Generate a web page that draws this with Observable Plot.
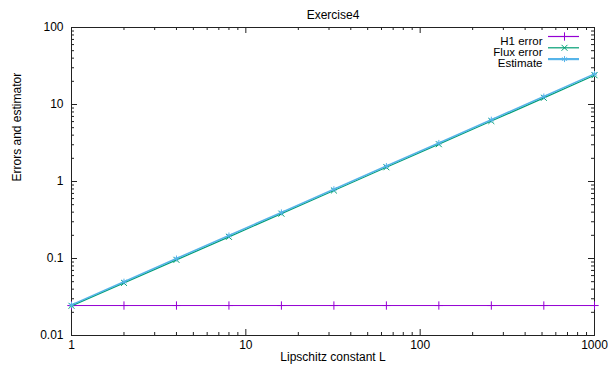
<!DOCTYPE html>
<html>
<head>
<meta charset="utf-8">
<script src="https://cdn.jsdelivr.net/npm/d3@7"></script>
<script src="https://cdn.jsdelivr.net/npm/@observablehq/plot@0.6"></script>
<style>
  html, body { margin: 0; padding: 0; background: #fff; }
  #chart svg { display: block; }
</style>
</head>
<body>
<div id="chart"></div>
<script>
// Lipschitz constants and the measured errors / estimator
const L = [1, 2, 4, 8, 16, 32, 64, 128, 256, 512, 1000];
const h1Error = [0.0245, 0.0245, 0.0245, 0.0245, 0.0245, 0.0245, 0.0245, 0.0245, 0.0245, 0.0245, 0.0245];
const fluxError = [0.0243, 0.0482, 0.096, 0.191, 0.382, 0.764, 1.53, 3.05, 6.1, 12.2, 24.0];
const estimate = [0.025, 0.05, 0.1, 0.199, 0.397, 0.794, 1.59, 3.17, 6.35, 12.7, 25.0];

const seriesNames = ["H1 error", "Flux error", "Estimate"];
const seriesColors = ["#9400d3", "#009e73", "#56b4e9"];
const seriesSymbols = ["plus", "times", "asterisk"];

const xTickValues = [1, 10, 100, 1000];
const yTickValues = [0.01, 0.1, 1, 10, 100];

const titleText = "Exercise4";
const xLabel = "Lipschitz constant L";
const yLabel = "Errors and estimator";

// minor ticks 2..9 within each decade
const minorTicks = (majors) => majors.slice(0, -1).flatMap(m => d3.range(2, 10).map(k => k * m));

const W = 608, H = 376;
const mL = 71, mR = 14, mT = 27, mB = 41;
const innerW = W - mL - mR, innerH = H - mT - mB;
const majorLen = 6, minorLen = 3;

const rows = (ys) => L.map((l, i) => ({L: l, v: ys[i]}));
const series = [h1Error, fluxError, estimate].map(rows);
const lineWidths = [1, 1.3, 1.6];

const tickStroke = "#222";
const tickMarks = (xs, ys, len) => [
  Plot.ruleX(xs, {x: d => d, insetTop: innerH - len, stroke: tickStroke}),
  Plot.ruleX(xs, {x: d => d, insetBottom: innerH - len, stroke: tickStroke}),
  Plot.ruleY(ys, {y: d => d, insetRight: innerW - len, stroke: tickStroke}),
  Plot.ruleY(ys, {y: d => d, insetLeft: innerW - len, stroke: tickStroke})
];

// key in the top-right corner
const legend = seriesNames.flatMap((name, i) => {
  const dy = 9 + i * 11.3;
  return [
    Plot.text([name], {text: d => d, frameAnchor: "top-right", dx: -52, dy, textAnchor: "end", fill: "#000", fontSize: 11.5}),
    Plot.ruleY([100], {dy, insetLeft: 477, insetRight: 15, stroke: seriesColors[i], strokeWidth: i === 2 ? 2.2 : 1.2}),
    Plot.dot([0], {frameAnchor: "top-right", dx: -30, dy, symbol: seriesSymbols[i], stroke: seriesColors[i], r: 2.8, strokeWidth: 1})
  ];
});

const chart = Plot.plot({
  width: W,
  height: H,
  marginLeft: mL,
  marginRight: mR,
  marginTop: mT,
  marginBottom: mB,
  style: {fontFamily: "'Liberation Sans', Arial, sans-serif", fontSize: "12px", background: "#fff", color: "#000"},
  x: {type: "log", domain: [1, 1000]},
  y: {type: "log", domain: [0.01, 100]},
  marks: [
    Plot.axisX({ticks: xTickValues, tickSize: 0, tickPadding: 5, tickFormat: d => String(d), label: null, fontSize: 12}),
    Plot.axisY({ticks: yTickValues, tickSize: 0, tickPadding: 8, tickFormat: d => String(d), label: null, fontSize: 12}),
    ...tickMarks(minorTicks(xTickValues), minorTicks(yTickValues), minorLen),
    ...tickMarks(xTickValues, yTickValues, majorLen),
    Plot.frame({stroke: "#222", strokeWidth: 1}),
    // one polyline with markers per series, drawn in key order
    ...series.flatMap((s, i) => [
      Plot.line(s, {x: "L", y: "v", stroke: seriesColors[i], strokeWidth: lineWidths[i]}),
      Plot.dot(s, {x: "L", y: "v", symbol: seriesSymbols[i], stroke: seriesColors[i], r: 2.8, strokeWidth: 1})
    ]),
    ...legend,
    Plot.text([titleText], {text: d => d, frameAnchor: "top", dy: -17, fontSize: 12, fill: "#000"}),
    Plot.text([xLabel], {text: d => d, frameAnchor: "bottom", dy: 25, fontSize: 12, fill: "#000"}),
    Plot.text([yLabel], {text: d => d, frameAnchor: "left", dx: -54, rotate: -90, fontSize: 12, fill: "#000"})
  ]
});

document.getElementById("chart").appendChild(chart);
</script>
</body>
</html>
